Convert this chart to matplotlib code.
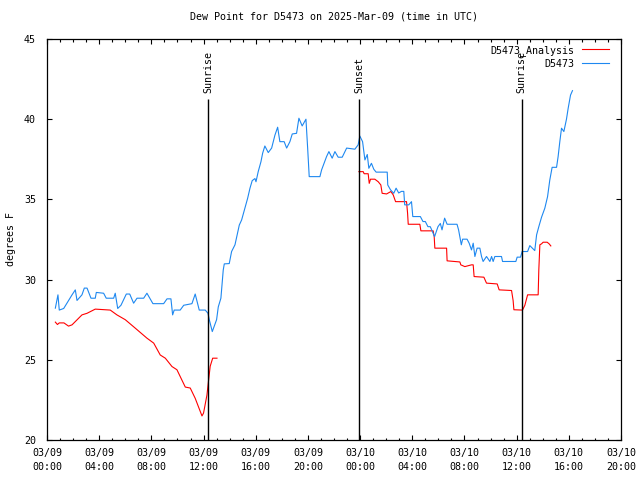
import numpy as np
import matplotlib
matplotlib.use("Agg")
import matplotlib.pyplot as plt

plt.rcParams['font.family'] = ['DejaVu Sans Mono']
plt.rcParams['font.size'] = 7.2

# hours since 03/09 00:00 UTC
obs_hours = [0.64, 0.84, 0.94, 1.28, 1.92, 2.17, 2.30, 2.68, 2.86, 3.07, 3.37, 3.70, 3.78,
             4.34, 4.54, 5.11, 5.23, 5.42, 5.67, 6.08, 6.34, 6.64, 6.9, 7.41, 7.66, 8.12,
             8.94, 9.2, 9.5, 9.63, 9.75, 10.21, 10.48, 11.11, 11.36, 11.67, 12.13, 12.34,
             12.44, 12.67, 13.0, 13.13, 13.33, 13.51, 13.59, 13.97, 14.15, 14.41, 14.61,
             14.74, 14.92, 15.17, 15.38, 15.56, 15.73, 15.94, 16.02, 16.19, 16.4, 16.53,
             16.7, 16.96, 17.22, 17.47, 17.68, 17.85, 18.18, 18.37, 18.62, 18.8, 19.13,
             19.31, 19.56, 19.85, 19.98, 20.1, 20.92, 21.05, 21.43, 21.61, 21.86, 22.07,
             22.32, 22.63, 22.97, 23.6, 23.85, 23.98, 24.19, 24.37, 24.55, 24.67, 24.87,
             25.05, 25.23, 26.08, 26.12, 26.33, 26.58, 26.76, 26.96, 27.17, 27.35, 27.42,
             27.73, 27.94, 28.04, 28.62, 28.82, 29.0, 29.2, 29.38, 29.71, 29.97, 30.15,
             30.28, 30.48, 30.67, 31.43, 31.55, 31.76, 31.86, 32.2, 32.36, 32.54, 32.67,
             32.8, 32.97, 33.18, 33.31, 33.43, 33.69, 33.95, 34.08, 34.2, 34.33, 34.84,
             34.92, 35.94, 36.04, 36.3, 36.42, 36.84, 37.01, 37.39, 37.53, 37.7, 37.91,
             38.16, 38.37, 38.54, 38.72, 39.06, 39.18, 39.31, 39.44, 39.62, 39.82, 39.95,
             40.13, 40.28]
obs_dewpt = [28.22, 29.05, 28.1, 28.2, 29.05, 29.36, 28.7, 29.05, 29.47, 29.47, 28.84, 28.84,
             29.2, 29.15, 28.84, 28.84, 29.15, 28.2, 28.4, 29.1, 29.1, 28.53, 28.84, 28.84,
             29.15, 28.5, 28.5, 28.8, 28.8, 27.8, 28.1, 28.1, 28.4, 28.5, 29.1, 28.1, 28.1,
             27.9, 27.5, 26.76, 27.5, 28.3, 28.84, 30.6, 30.98, 31.0, 31.75, 32.17, 32.9,
             33.4, 33.72, 34.45, 35.07, 35.7, 36.17, 36.3, 36.1, 36.73, 37.35, 37.88, 38.33,
             37.92, 38.2, 39.0, 39.5, 38.6, 38.6, 38.2, 38.6, 39.08, 39.12, 40.06, 39.58,
             40.0, 38.2, 36.42, 36.42, 36.84, 37.67, 37.98, 37.57, 37.98, 37.63, 37.63, 38.2,
             38.13, 38.4, 38.95, 38.6, 37.46, 37.8, 36.94, 37.25, 36.88, 36.7, 36.7, 35.9,
             35.6, 35.38, 35.7, 35.4, 35.5, 35.5, 34.66, 34.66, 34.86, 33.93, 33.93, 33.62,
             33.62, 33.3, 33.3, 32.68, 33.3, 33.5, 33.1, 33.83, 33.45, 33.45, 33.1, 32.17,
             32.52, 32.52, 32.27, 31.85, 32.27, 31.44, 31.96, 31.96, 31.44, 31.13, 31.44,
             31.13, 31.44, 31.13, 31.44, 31.44, 31.13, 31.13, 31.4, 31.4, 31.75, 31.75, 32.12,
             31.81, 32.79, 33.3, 33.89, 34.45, 35.17, 36.2, 37.0, 37.0, 37.67, 38.6, 39.44,
             39.23, 40.0, 40.68, 41.5, 41.78]

ana_hours = [0.64, 0.8, 0.94, 1.3, 1.65, 1.92, 2.68, 3.07, 3.70, 4.85, 5.36, 6.0, 6.77, 7.66,
             8.18, 8.68, 9.07, 9.58, 9.96, 10.6, 10.98, 11.36, 11.88, 12.0, 12.26, 12.39,
             12.51, 12.7, 13.03, 18.0,
             23.91, 24.24, 24.31, 24.62, 24.7, 24.8, 25.13, 25.39, 25.59, 25.69, 26.03,
             26.36, 26.54, 26.72, 27.56, 27.64, 27.69, 28.58, 28.66, 29.6, 29.68, 29.73,
             30.63, 30.67, 31.65, 31.72, 32.03, 32.54, 32.67, 32.74, 33.49, 33.69, 34.51,
             34.66, 35.61, 35.73, 35.79, 36.45, 36.63, 36.84, 37.65, 37.7, 37.78, 37.91,
             38.03, 38.34, 38.49, 38.62]
ana_dewpt = [27.35, 27.2, 27.3, 27.3, 27.1, 27.18, 27.8, 27.9, 28.16, 28.1, 27.8, 27.5, 26.97,
             26.35, 26.04, 25.3, 25.1, 24.58, 24.38, 23.3, 23.24, 22.6, 21.5, 21.68, 22.8,
             23.75, 24.6, 25.1, 25.1, np.nan,
             36.73, 36.73, 36.6, 36.6, 36.0, 36.26, 36.26, 36.1, 35.9, 35.38, 35.34, 35.49,
             35.28, 34.86, 34.86, 34.14, 33.45, 33.45, 33.04, 33.04, 32.68, 31.96, 31.96,
             31.17, 31.1, 30.92, 30.81, 30.92, 30.92, 30.19, 30.15, 29.78, 29.73, 29.36,
             29.32, 28.7, 28.12, 28.1, 28.4, 29.05, 29.05, 30.6, 32.17, 32.23, 32.33, 32.33,
             32.23, 32.1]

sun_hours = [12.34, 23.91, 36.4]
sun_names = ['Sunrise', 'Sunset', 'Sunrise']

tick_hours = list(range(0, 45, 4))
tick_labels = ['03/09\n00:00', '03/09\n04:00', '03/09\n08:00', '03/09\n12:00',
               '03/09\n16:00', '03/09\n20:00', '03/10\n00:00', '03/10\n04:00',
               '03/10\n08:00', '03/10\n12:00', '03/10\n16:00', '03/10\n20:00']

fig = plt.figure(figsize=(6.4, 4.8), dpi=100)
ax = fig.add_axes([47 / 640, 40 / 480, 574 / 640, 401 / 480])

ax.plot(ana_hours, ana_dewpt, color='#ff0000', lw=0.8, label='D5473_Analysis')
ax.plot(obs_hours, obs_dewpt, color='#1e88f0', lw=0.8, label='D5473')

ax.vlines(sun_hours, 20, 41.26, color='black', lw=1.0)
for h, name in zip(sun_hours, sun_names):
    ax.text(h, 41.65, name, rotation=90, ha='center', va='bottom')

ax.set_xlim(0, 44)
ax.set_ylim(20, 45)
ax.set_xticks(tick_hours)
ax.set_xticklabels(tick_labels)
for lab in ax.get_xticklabels():
    lab.set_linespacing(1.45)
ax.set_xticks(range(0, 45), minor=True)
ax.set_yticks([20, 25, 30, 35, 40, 45])

ax.tick_params(which='both', direction='in', top=True, right=True, width=0.8)
ax.tick_params(which='major', length=3.5)
ax.tick_params(which='minor', length=1.8)
ax.tick_params(axis='x', pad=6)
ax.tick_params(axis='y', pad=8)

for s in ax.spines.values():
    s.set_linewidth(0.9)

ax.set_title('Dew Point for D5473 on 2025-Mar-09 (time in UTC)', fontsize=7.2, pad=14)
ax.set_ylabel('degrees F', labelpad=6)

ax.legend(loc='upper right', frameon=False, markerfirst=False, handlelength=2.7,
          borderaxespad=0.2, labelspacing=0.3, handletextpad=0.8,
          bbox_to_anchor=(0.99, 1.0))

fig.savefig('out.png', dpi=100)
